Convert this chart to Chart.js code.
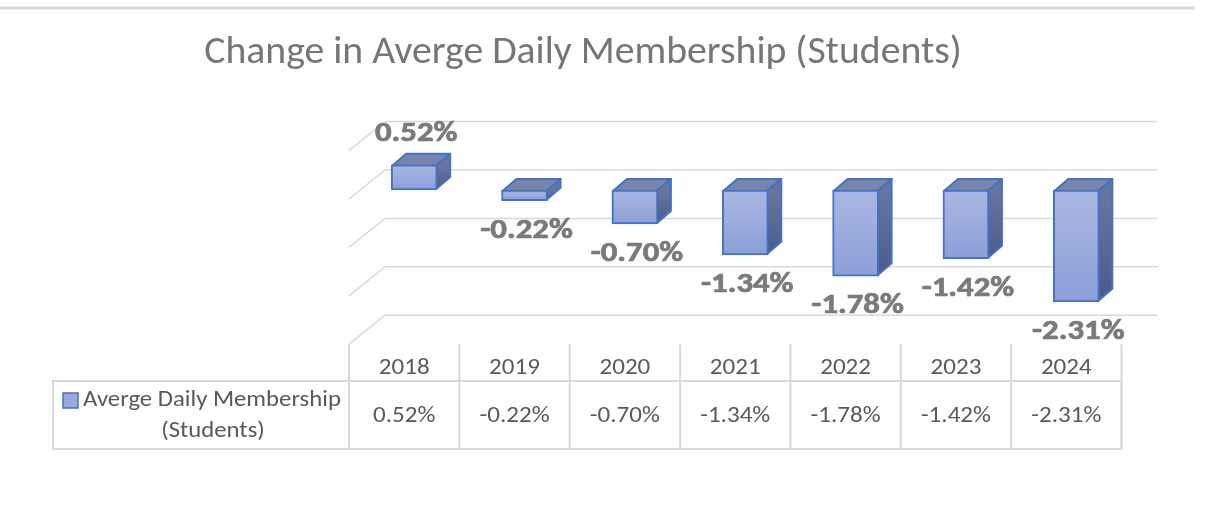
<!DOCTYPE html>
<html>
<head>
<meta charset="utf-8">
<script src="https://cdn.jsdelivr.net/npm/chart.js@4.4.1/dist/chart.umd.min.js"></script>
<style>
  html, body { margin: 0; padding: 0; background: #fff; }
  #wrap { width: 1219px; height: 531px; }
</style>
</head>
<body>
<div id="wrap"><canvas id="admChart" width="1219" height="531"></canvas></div>
<script>
// data
const chartTitle = 'Change in Averge Daily Membership (Students)';
const seriesName = ['Averge Daily Membership', '(Students)'];
const years = ['2018', '2019', '2020', '2021', '2022', '2023', '2024'];
const admChange = [0.52, -0.22, -0.70, -1.34, -1.78, -1.42, -2.31];
const wallTicks = [1, 0, -1, -2, -3];

const FONT = 'Carlito, Lato, "Open Sans", sans-serif';
const fmt = v => v.toFixed(2) + '%';

// fake 3d offsets (px) relative to the front plane of the bars
const barDepth = { dx: 14, dy: -12 };
const wallOff = { dx: 26, dy: -20 };
const frontOff = { dx: -10, dy: 9 };

// the original picture is a bit stretched sideways, so text gets a x-scale
const stretchText = (ctx, txt, x, y, sx, outline) => {
  ctx.save();
  ctx.translate(x, y);
  ctx.scale(sx, 1);
  ctx.fillText(txt, 0, 0);
  if (outline) ctx.strokeText(txt, 0, 0);
  ctx.restore();
};

const frontFill = (c) => {
  const chart = c.chart;
  if (!chart.chartArea || c.type !== 'data') return '#98a8dc';
  const y = chart.scales.y;
  const y0 = y.getPixelForValue(Math.max(c.raw, 0));
  const y1 = y.getPixelForValue(Math.min(c.raw, 0));
  const g = chart.ctx.createLinearGradient(0, y0, 0, y1 + 0.01);
  g.addColorStop(0, '#aab7e2');
  g.addColorStop(1, '#8b9fd8');
  return g;
};

const barBox = (bar) => {
  const p = bar.getProps(['x', 'y', 'base', 'width'], true);
  return {
    cx: p.x,
    l: p.x - p.width / 2 + 1,
    r: p.x + p.width / 2 - 1,
    top: Math.min(p.y, p.base) + 1,
    bot: Math.max(p.y, p.base) - 1
  };
};

const excel3d = {
  id: 'excel3d',
  beforeDatasetsDraw(chart) {
    const { ctx, chartArea, scales: { y } } = chart;
    ctx.save();

    // frame line at the top
    ctx.strokeStyle = '#d9d9d9';
    ctx.lineWidth = 3;
    ctx.beginPath();
    ctx.moveTo(0, 8);
    ctx.lineTo(1195, 8);
    ctx.stroke();

    // title
    ctx.fillStyle = '#767676';
    ctx.font = '38px ' + FONT;
    ctx.textAlign = 'center';
    ctx.textBaseline = 'alphabetic';
    stretchText(ctx, chartTitle, 583, 63, 1.045);

    // back wall gridlines with the left side wall diagonals
    ctx.strokeStyle = '#d9d9d9';
    ctx.lineWidth = 1.5;
    wallTicks.forEach(v => {
      const py = y.getPixelForValue(v);
      ctx.beginPath();
      ctx.moveTo(chartArea.left + frontOff.dx, py + frontOff.dy);
      ctx.lineTo(chartArea.left + wallOff.dx, py + wallOff.dy);
      ctx.lineTo(chartArea.right + wallOff.dx, py + wallOff.dy);
      ctx.stroke();
    });

    // top and side faces of the columns
    ctx.lineWidth = 2;
    ctx.lineJoin = 'round';
    ctx.strokeStyle = '#4472c4';
    chart.getDatasetMeta(0).data.forEach(bar => {
      const b = barBox(bar);
      ctx.beginPath();
      ctx.moveTo(b.l, b.top);
      ctx.lineTo(b.l + barDepth.dx, b.top + barDepth.dy);
      ctx.lineTo(b.r + barDepth.dx, b.top + barDepth.dy);
      ctx.lineTo(b.r, b.top);
      ctx.closePath();
      ctx.fillStyle = '#7784ab';
      ctx.fill();
      ctx.stroke();

      const g = ctx.createLinearGradient(0, b.top, 0, b.bot);
      g.addColorStop(0, '#67759f');
      g.addColorStop(1, '#4c5b8a');
      ctx.beginPath();
      ctx.moveTo(b.r, b.top);
      ctx.lineTo(b.r + barDepth.dx, b.top + barDepth.dy);
      ctx.lineTo(b.r + barDepth.dx, b.bot + barDepth.dy);
      ctx.lineTo(b.r, b.bot);
      ctx.closePath();
      ctx.fillStyle = g;
      ctx.fill();
      ctx.stroke();
    });
    ctx.restore();
  },

  afterDatasetsDraw(chart) {
    const { ctx } = chart;
    ctx.save();
    ctx.fillStyle = '#7a7a7a';
    ctx.strokeStyle = '#7a7a7a';
    ctx.lineWidth = 0.7;
    ctx.font = 'bold 28px ' + FONT;
    ctx.textAlign = 'center';
    ctx.textBaseline = 'middle';
    chart.getDatasetMeta(0).data.forEach((bar, i) => {
      const b = barBox(bar);
      const v = admChange[i];
      const ty = v >= 0 ? b.top - 32 : b.bot + 31;
      stretchText(ctx, fmt(v), b.cx + 2, ty, 1.17, true);
    });
    ctx.restore();
  },

  afterDraw(chart) {
    const { ctx, scales: { x, y } } = chart;
    const step = (x.right - x.left) / years.length;
    const colEdge = i => x.getPixelForValue(0) - step / 2 + i * step + frontOff.dx;
    const headTop = y.getPixelForValue(-3) + frontOff.dy;
    const rowTop = 381, rowBot = 449, tableLeft = 53;

    ctx.save();
    ctx.strokeStyle = '#d9d9d9';
    ctx.lineWidth = 2;
    for (let i = 0; i <= years.length; i++) {
      ctx.beginPath();
      ctx.moveTo(colEdge(i), headTop);
      ctx.lineTo(colEdge(i), rowBot);
      ctx.stroke();
    }
    ctx.strokeRect(tableLeft, rowTop, colEdge(years.length) - tableLeft, rowBot - rowTop);

    ctx.fillStyle = '#595959';
    ctx.font = '23px ' + FONT;
    ctx.textAlign = 'center';
    ctx.textBaseline = 'middle';
    years.forEach((yr, i) => {
      const cx = x.getPixelForValue(i) + frontOff.dx;
      stretchText(ctx, yr, cx, 368, 1.09);
      stretchText(ctx, fmt(admChange[i]), cx, 416, 1.09);
    });

    // legend key + series name
    ctx.fillStyle = '#98a8dc';
    ctx.fillRect(63, 393, 15, 15);
    ctx.strokeStyle = '#4472c4';
    ctx.lineWidth = 1.5;
    ctx.strokeRect(63, 393, 15, 15);
    ctx.fillStyle = '#595959';
    stretchText(ctx, seriesName[0], 212, 400, 1.075);
    stretchText(ctx, seriesName[1], 213, 431, 1.075);
    ctx.restore();
  }
};

new Chart(document.getElementById('admChart'), {
  type: 'bar',
  data: {
    labels: years,
    datasets: [{
      label: seriesName.join(' '),
      data: admChange,
      backgroundColor: frontFill,
      borderColor: '#4472c4',
      borderWidth: 2,
      borderSkipped: false,
      barThickness: 46
    }]
  },
  options: {
    responsive: false,
    animation: false,
    devicePixelRatio: 1,
    layout: { padding: { top: 141.6, bottom: 195.8, left: 359, right: 87.5 } },
    plugins: {
      legend: { display: false },
      title: { display: false },
      tooltip: { enabled: false }
    },
    scales: {
      x: { display: false },
      y: { display: false, min: -3, max: 1 }
    }
  },
  plugins: [excel3d]
});
</script>
</body>
</html>
